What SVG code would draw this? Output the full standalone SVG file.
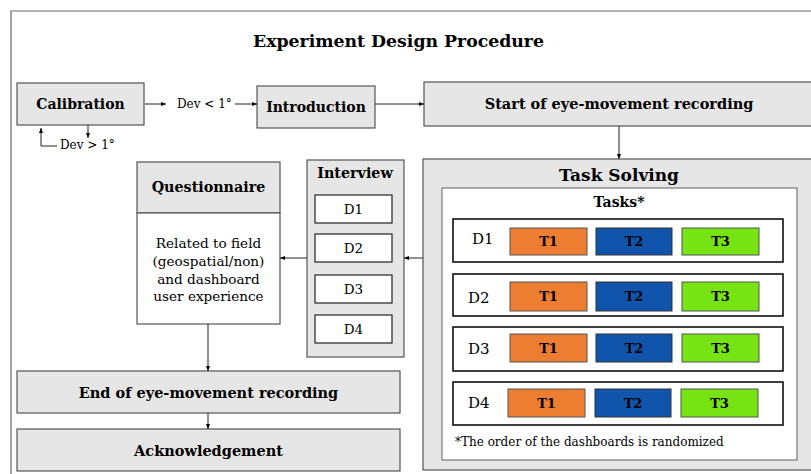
<svg xmlns="http://www.w3.org/2000/svg" width="811" height="474" viewBox="0 0 811 474">
<defs>
<marker id="ah" viewBox="0 0 10 10" refX="10" refY="5" markerWidth="5" markerHeight="5" orient="auto" markerUnits="userSpaceOnUse">
<path d="M0,1 L10,5 L0,9 z" fill="#000"/>
</marker>
<style>
text{font-family:"DejaVu Serif","Liberation Serif",serif;fill:#000}
.b{font-weight:bold}
.g{fill:#e6e6e6;stroke:#555;stroke-width:1.2}
.w{fill:#fff;stroke:#555;stroke-width:1.2}
.row{fill:#fff;stroke:#000;stroke-width:1.5}
.db{fill:#fff;stroke:#222;stroke-width:1.2}
.t1{fill:#ed7d31;stroke:#555;stroke-width:1}
.t2{fill:#1055ab;stroke:#333;stroke-width:1}
.t3{fill:#76e312;stroke:#555;stroke-width:1}
.c{stroke:#222;stroke-width:1;fill:none}
.a{marker-end:url(#ah)}
.m{text-anchor:middle}
</style>
</defs>
<rect x="0" y="0" width="811" height="474" fill="#fff"/>
<path d="M11,474 V11 H811" fill="none" stroke="#666" stroke-width="1.2"/>
<text class="b m" x="398.5" y="47" font-size="17.3">Experiment Design Procedure</text>

<g id="calibration">
<rect class="g" x="17" y="83" width="127" height="42"/>
<text class="b m" x="80.5" y="109" font-size="14">Calibration</text>
</g>
<g id="introduction">
<rect class="g" x="257" y="86" width="118" height="42"/>
<text class="b m" x="316" y="112" font-size="14">Introduction</text>
</g>
<g id="start">
<rect class="g" x="424" y="82" width="395" height="44"/>
<text class="b m" x="619" y="109" font-size="14.5">Start of eye-movement recording</text>
</g>
<g id="task-solving">
<rect class="g" x="423" y="159" width="396" height="311"/>
<text class="b m" x="619" y="181" font-size="17">Task Solving</text>
<rect x="442" y="188" width="355" height="272" fill="#fff" stroke="#777" stroke-width="1.2"/>
<text class="b m" x="619" y="207" font-size="14">Tasks*</text>
</g>
<g id="row-d1">
<rect class="row" x="453" y="219" width="330" height="43"/>
<text x="472" y="244" font-size="15">D1</text>
<rect class="t1" x="510" y="228" width="77" height="27"/><text class="b m" x="548.5" y="246" font-size="13">T1</text>
<rect class="t2" x="596" y="228" width="76" height="27"/><text class="b m" x="634" y="246" font-size="13">T2</text>
<rect class="t3" x="682" y="228" width="77" height="27"/><text class="b m" x="720.5" y="246" font-size="13">T3</text>
</g>
<g id="row-d2">
<rect class="row" x="453" y="274" width="330" height="42"/>
<text x="468" y="303" font-size="15">D2</text>
<rect class="t1" x="510" y="282" width="77" height="29"/><text class="b m" x="548.5" y="301" font-size="13">T1</text>
<rect class="t2" x="596" y="282" width="76" height="29"/><text class="b m" x="634" y="301" font-size="13">T2</text>
<rect class="t3" x="682" y="282" width="77" height="29"/><text class="b m" x="720.5" y="301" font-size="13">T3</text>
</g>
<g id="row-d3">
<rect class="row" x="453" y="327" width="330" height="44"/>
<text x="468" y="354" font-size="15">D3</text>
<rect class="t1" x="510" y="334" width="77" height="28"/><text class="b m" x="548.5" y="353" font-size="13">T1</text>
<rect class="t2" x="596" y="334" width="76" height="28"/><text class="b m" x="634" y="353" font-size="13">T2</text>
<rect class="t3" x="682" y="334" width="77" height="28"/><text class="b m" x="720.5" y="353" font-size="13">T3</text>
</g>
<g id="row-d4">
<rect class="row" x="453" y="382" width="330" height="43"/>
<text x="468" y="408" font-size="15">D4</text>
<rect class="t1" x="508" y="389" width="77" height="28"/><text class="b m" x="546.5" y="408" font-size="13">T1</text>
<rect class="t2" x="595" y="389" width="76" height="28"/><text class="b m" x="633" y="408" font-size="13">T2</text>
<rect class="t3" x="681" y="389" width="77" height="28"/><text class="b m" x="719.5" y="408" font-size="13">T3</text>
</g>
<text x="455" y="446" font-size="12">*The order of the dashboards is randomized</text>

<g id="interview">
<rect class="g" x="307" y="160" width="97" height="197"/>
<text class="b m" x="355" y="178" font-size="14.3">Interview</text>
<rect class="db" x="315" y="195" width="77" height="28"/><text class="m" x="353.5" y="214" font-size="13.5">D1</text>
<rect class="db" x="315" y="234" width="77" height="28"/><text class="m" x="353.5" y="253" font-size="13.5">D2</text>
<rect class="db" x="315" y="275" width="77" height="28"/><text class="m" x="353.5" y="294" font-size="13.5">D3</text>
<rect class="db" x="315" y="315" width="77" height="28"/><text class="m" x="353.5" y="334" font-size="13.5">D4</text>
</g>
<g id="questionnaire">
<rect class="g" x="137" y="162" width="143" height="51"/>
<rect class="w" x="137" y="213" width="143" height="111"/>
<text class="b m" x="208.5" y="192" font-size="14.3">Questionnaire</text>
<text class="m" x="208.5" y="248" font-size="13.6">Related to field</text>
<text class="m" x="208.5" y="266" font-size="13.6">(geospatial/non)</text>
<text class="m" x="208.5" y="284" font-size="13.6">and dashboard</text>
<text class="m" x="208.5" y="301" font-size="13.6">user experience</text>
</g>
<g id="end">
<rect class="g" x="17" y="371" width="383" height="42"/>
<text class="b m" x="208.5" y="398" font-size="14.5">End of eye-movement recording</text>
</g>
<g id="ack">
<rect class="g" x="17" y="429" width="383" height="42"/>
<text class="b m" x="208.5" y="456" font-size="14.5">Acknowledgement</text>
</g>

<g id="connectors">
<line class="c a" x1="145" y1="104" x2="166" y2="104"/>
<text x="177" y="108" font-size="12">Dev &lt; 1°</text>
<line class="c a" x1="235" y1="104" x2="257" y2="104"/>
<line class="c a" x1="375" y1="104" x2="424" y2="104"/>
<line class="c a" x1="88" y1="125" x2="88" y2="138"/>
<path class="c a" d="M57,146 H41 V128"/>
<text x="60" y="149" font-size="12">Dev &gt; 1°</text>
<line class="c a" x1="619" y1="126" x2="619" y2="159"/>
<line class="c a" x1="423" y1="258" x2="404" y2="258"/>
<line class="c a" x1="307" y1="258" x2="280" y2="258"/>
<line class="c a" x1="208" y1="324" x2="208" y2="371"/>
<line class="c a" x1="208" y1="413" x2="208" y2="429"/>
</g>
</svg>
